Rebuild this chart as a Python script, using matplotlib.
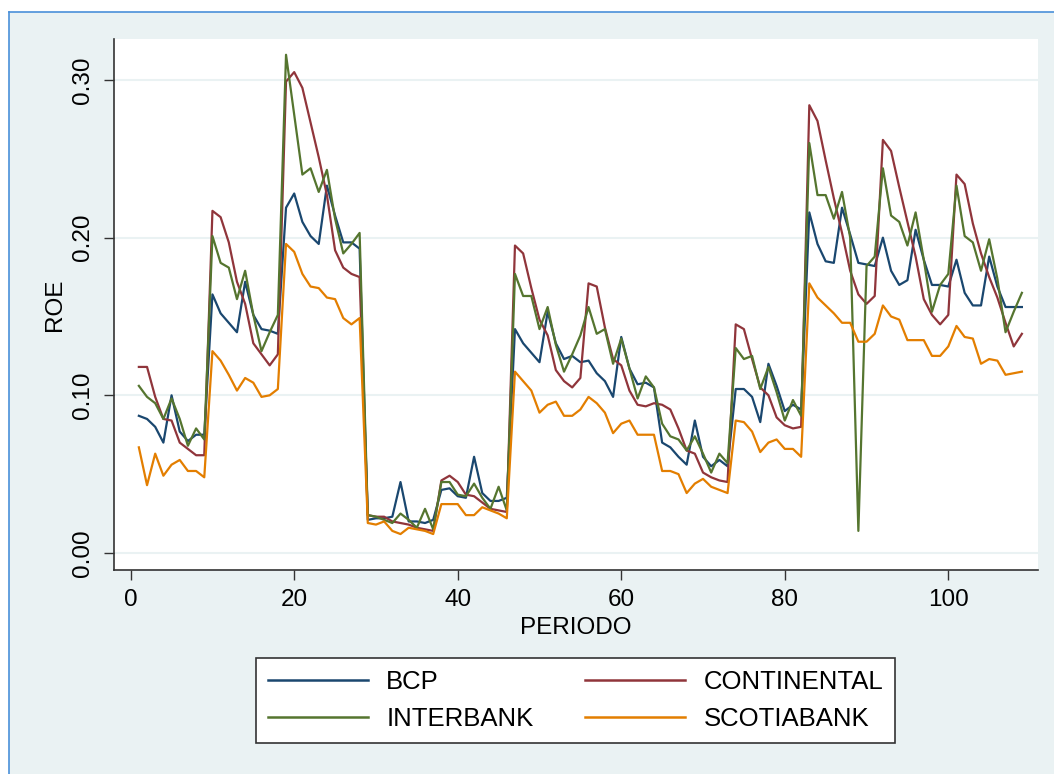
import matplotlib
matplotlib.use("Agg")
import matplotlib.pyplot as plt
from matplotlib.lines import Line2D
from matplotlib.patches import Rectangle
import numpy as np

periodo = list(range(1, 110))

bcp = [0.087, 0.085, 0.080, 0.070, 0.100, 0.077, 0.071, 0.075, 0.075, 0.164,
       0.152, 0.146, 0.140, 0.172, 0.151, 0.142, 0.141, 0.139, 0.219, 0.228,
       0.210, 0.201, 0.196, 0.233, 0.214, 0.197, 0.197, 0.193, 0.021, 0.022,
       0.022, 0.023, 0.045, 0.020, 0.020, 0.019, 0.021, 0.040, 0.041, 0.036,
       0.035, 0.061, 0.038, 0.033, 0.033, 0.035, 0.142, 0.133, 0.127, 0.121,
       0.153, 0.133, 0.123, 0.125, 0.121, 0.122, 0.114, 0.109, 0.099, 0.137,
       0.117, 0.107, 0.108, 0.105, 0.070, 0.067, 0.061, 0.056, 0.084, 0.061,
       0.055, 0.059, 0.055, 0.104, 0.104, 0.099, 0.083, 0.120, 0.106, 0.090,
       0.094, 0.091, 0.216, 0.196, 0.185, 0.184, 0.219, 0.202, 0.184, 0.183,
       0.182, 0.200, 0.179, 0.170, 0.173, 0.205, 0.186, 0.170, 0.170, 0.169,
       0.186, 0.165, 0.157, 0.157, 0.188, 0.169, 0.156, 0.156, 0.156]

continental = [0.118, 0.118, 0.099, 0.085, 0.084, 0.070, 0.066, 0.062, 0.062, 0.217,
               0.213, 0.197, 0.172, 0.158, 0.133, 0.126, 0.119, 0.126, 0.299, 0.305,
               0.295, 0.273, 0.251, 0.227, 0.192, 0.181, 0.177, 0.175, 0.024, 0.023,
               0.023, 0.020, 0.019, 0.018, 0.016, 0.015, 0.014, 0.046, 0.049, 0.045,
               0.037, 0.036, 0.032, 0.028, 0.027, 0.026, 0.195, 0.190, 0.168, 0.148,
               0.138, 0.116, 0.109, 0.105, 0.111, 0.171, 0.169, 0.143, 0.123, 0.119,
               0.103, 0.094, 0.093, 0.095, 0.094, 0.091, 0.079, 0.065, 0.063, 0.051,
               0.048, 0.046, 0.045, 0.145, 0.142, 0.123, 0.105, 0.100, 0.086, 0.081,
               0.079, 0.080, 0.284, 0.274, 0.249, 0.225, 0.203, 0.179, 0.164, 0.158,
               0.163, 0.262, 0.255, 0.232, 0.210, 0.188, 0.161, 0.151, 0.145, 0.151,
               0.240, 0.234, 0.209, 0.190, 0.175, 0.162, 0.146, 0.131, 0.139]

interbank = [0.106, 0.099, 0.095, 0.085, 0.098, 0.085, 0.068, 0.079, 0.072, 0.201,
             0.184, 0.181, 0.161, 0.179, 0.151, 0.128, 0.140, 0.151, 0.316, 0.278,
             0.240, 0.244, 0.229, 0.243, 0.212, 0.190, 0.196, 0.203, 0.024, 0.023,
             0.021, 0.019, 0.025, 0.021, 0.016, 0.028, 0.015, 0.045, 0.045, 0.037,
             0.036, 0.044, 0.035, 0.028, 0.042, 0.027, 0.177, 0.163, 0.163, 0.142,
             0.156, 0.132, 0.115, 0.126, 0.138, 0.156, 0.139, 0.142, 0.120, 0.136,
             0.117, 0.098, 0.112, 0.105, 0.082, 0.074, 0.072, 0.065, 0.074, 0.063,
             0.051, 0.063, 0.057, 0.130, 0.123, 0.125, 0.104, 0.118, 0.102, 0.084,
             0.097, 0.087, 0.260, 0.227, 0.227, 0.212, 0.229, 0.200, 0.014, 0.182,
             0.188, 0.244, 0.214, 0.210, 0.195, 0.216, 0.186, 0.153, 0.170, 0.177,
             0.233, 0.201, 0.197, 0.179, 0.199, 0.174, 0.140, 0.153, 0.165]

scotiabank = [0.067, 0.043, 0.063, 0.049, 0.056, 0.059, 0.052, 0.052, 0.048, 0.128,
              0.122, 0.113, 0.103, 0.111, 0.108, 0.099, 0.100, 0.104, 0.196, 0.191,
              0.177, 0.169, 0.168, 0.162, 0.161, 0.149, 0.145, 0.149, 0.019, 0.018,
              0.020, 0.014, 0.012, 0.016, 0.015, 0.014, 0.012, 0.031, 0.031, 0.031,
              0.024, 0.024, 0.029, 0.027, 0.025, 0.022, 0.115, 0.109, 0.103, 0.089,
              0.094, 0.096, 0.087, 0.087, 0.091, 0.099, 0.095, 0.089, 0.076, 0.082,
              0.084, 0.075, 0.075, 0.075, 0.052, 0.052, 0.050, 0.038, 0.044, 0.047,
              0.042, 0.040, 0.038, 0.084, 0.083, 0.077, 0.064, 0.070, 0.072, 0.066,
              0.066, 0.061, 0.171, 0.162, 0.157, 0.152, 0.146, 0.146, 0.134, 0.134,
              0.139, 0.157, 0.150, 0.148, 0.135, 0.135, 0.135, 0.125, 0.125, 0.131,
              0.144, 0.137, 0.136, 0.120, 0.123, 0.122, 0.113, 0.114, 0.115]

series_names = ["BCP", "CONTINENTAL", "INTERBANK", "SCOTIABANK"]
series_values = [bcp, continental, interbank, scotiabank]
series_colors = ["#1A476F", "#90353B", "#55752F", "#E37E00"]

x_ticks = [0, 20, 40, 60, 80, 100]
y_ticks = [0.00, 0.10, 0.20, 0.30]
y_tick_labels = ["0.00", "0.10", "0.20", "0.30"]

plt.rcParams["font.family"] = ["Liberation Sans", "DejaVu Sans"]

W, H = 1054, 774
bg = "#EAF2F3"
fig = plt.figure(figsize=(W / 100, H / 100), dpi=100, facecolor="white")

# graph region background with left/top border
fig.patches.append(Rectangle((9 / W, 0), 1 - 9 / W, 1 - 12 / H, transform=fig.transFigure,
                             facecolor=bg, edgecolor="none", zorder=-10))
fig.add_artist(Line2D([8.5 / W, 8.5 / W], [0, 1 - 11.5 / H], transform=fig.transFigure,
                      color="#4A90D9", lw=1.2, zorder=-5))
fig.add_artist(Line2D([8.5 / W, 1], [1 - 11.5 / H, 1 - 11.5 / H], transform=fig.transFigure,
                      color="#4A90D9", lw=1.2, zorder=-5))

L, R, T, B = 114, 1038, 39, 570
ax = fig.add_axes([L / W, 1 - B / H, (R - L) / W, (B - T) / H])
ax.set_zorder(1)
ax.set_facecolor("white")

lines = {}
for name, vals, col in zip(series_names, series_values, series_colors):
    ln, = ax.plot(periodo, vals, color=col, lw=1.6, label=name)
    lines[name] = ln

ax.set_xlim(-2.04, 110.97)
ax.set_ylim(-0.0108, 0.326)
ax.set_xticks(x_ticks)
ax.set_xticklabels([str(t) for t in x_ticks])
ax.set_yticks(y_ticks)
ax.set_yticklabels(y_tick_labels, rotation=90, va="center")
ax.grid(axis="y", color=bg, lw=1.5)
ax.set_axisbelow(True)

for s in ["top", "right"]:
    ax.spines[s].set_visible(False)
for s in ["left", "bottom"]:
    ax.spines[s].set_color("#333333")
    ax.spines[s].set_linewidth(1.2)

ax.tick_params(axis="both", which="major", length=7.5, width=1.0, color="#333333",
               labelsize=17.5, labelcolor="black")
ax.tick_params(axis="x", pad=6)
ax.tick_params(axis="y", pad=7)

ax.set_xlabel("PERIODO", fontsize=17.5, va="center")
ax.set_ylabel("ROE", fontsize=17.5, va="center")
ax.xaxis.set_label_coords(0.5, -(628 - B) / (B - T))
ax.yaxis.set_label_coords(-(L - 55) / (R - L), 0.5)

# row-major legend order (Stata style): BCP, CONTINENTAL / INTERBANK, SCOTIABANK
order = ["BCP", "INTERBANK", "CONTINENTAL", "SCOTIABANK"]
leg = fig.legend([lines[n] for n in order], order, loc="center",
                 bbox_to_anchor=(575.5 / W, 1 - 700.5 / H), ncol=2,
                 fontsize=18.5, frameon=True, fancybox=False, shadow=False,
                 handlelength=3.9, handletextpad=0.72, columnspacing=2.0,
                 labelspacing=0.5, borderpad=0.47, borderaxespad=0)
frame = leg.get_frame()
frame.set_edgecolor("#333333")
frame.set_linewidth(1.2)
frame.set_facecolor("white")
frame.set_alpha(1)
for h in leg.legend_handles:
    h.set_linewidth(1.8)

fig.savefig("out.png", dpi=100, facecolor=fig.get_facecolor())
